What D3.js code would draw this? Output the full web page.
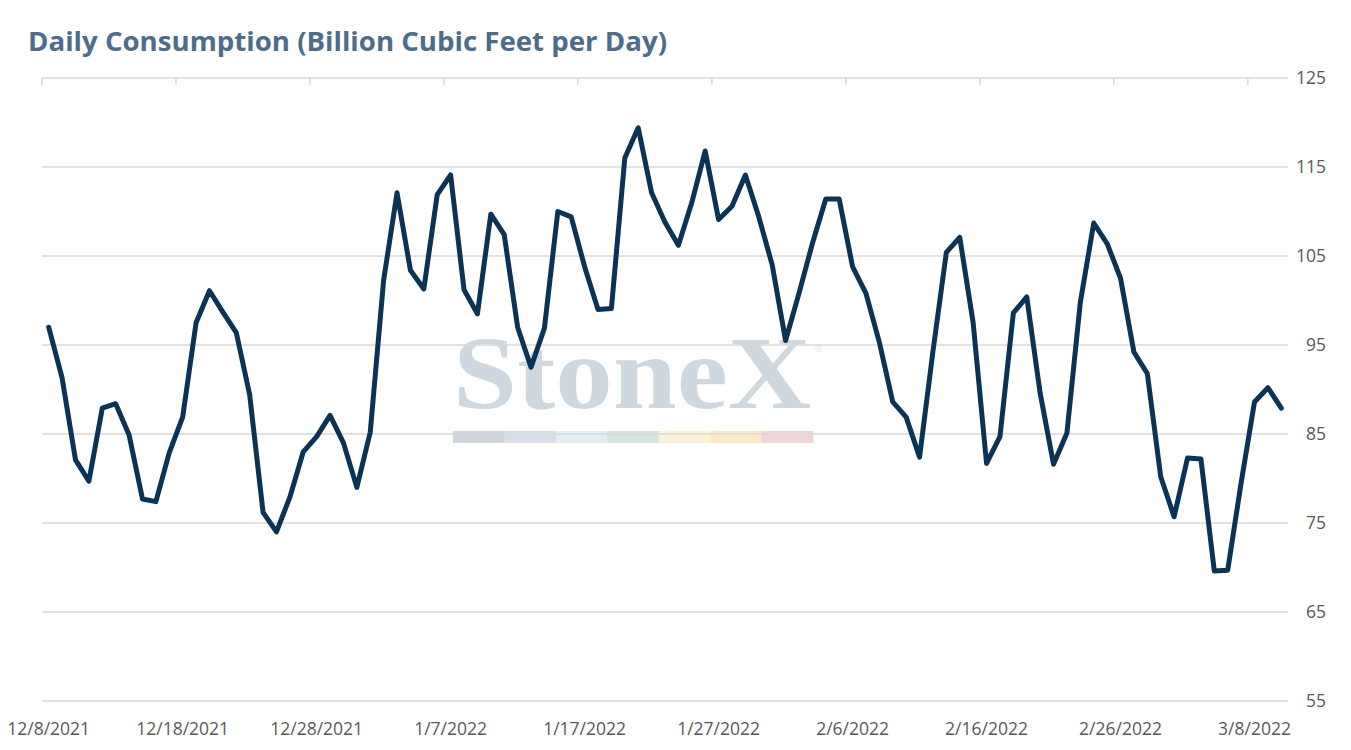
<!DOCTYPE html>
<html>
<head>
<meta charset="utf-8">
<script src="https://cdn.jsdelivr.net/npm/d3@7/dist/d3.min.js"></script>
<style>
  html, body { margin: 0; padding: 0; background: #ffffff; }
  svg { display: block; }
</style>
</head>
<body>
<svg id="chart" width="1351" height="750"></svg>
<script>
// ---- data ----
const titleText = "Daily Consumption (Billion Cubic Feet per Day)";
const firstDay = new Date(2021, 11, 8);
const dayAfterLast = new Date(2022, 2, 11);
const categories = d3.timeDay.range(firstDay, dayAfterLast); // 12/8/2021 .. 3/10/2022

const consumption = [
  97.0, 91.3, 82.1, 79.7, 87.9, 88.4, 84.9, 77.7, 77.4, 82.9,
  86.9, 97.5, 101.1, 98.7, 96.4, 89.4, 76.2, 74.0, 77.9, 83.0,
  84.7, 87.1, 84.0, 79.0, 85.2, 102.3, 112.1, 103.4, 101.3, 111.9,
  114.1, 101.2, 98.5, 109.7, 107.4, 97.0, 92.5, 96.9, 110.0, 109.4,
  103.8, 99.0, 99.1, 116.0, 119.4, 112.1, 108.8, 106.2, 111.0, 116.8,
  109.1, 110.6, 114.1, 109.4, 104.0, 95.5, 100.8, 106.4, 111.4, 111.4,
  103.8, 100.8, 95.3, 88.6, 86.9, 82.4, 94.3, 105.4, 107.1, 97.5,
  81.7, 84.7, 98.6, 100.4, 89.6, 81.6, 85.1, 99.8, 108.7, 106.4,
  102.5, 94.2, 91.8, 80.2, 75.7, 82.3, 82.2, 69.6, 69.7, 79.5,
  88.6, 90.2, 87.9
];

const xTickLabels = ["12/8/2021", "12/18/2021", "12/28/2021", "1/7/2022", "1/17/2022",
                     "1/27/2022", "2/6/2022", "2/16/2022", "2/26/2022", "3/8/2022"];
const yTicks = [55, 65, 75, 85, 95, 105, 115, 125];
const watermarkStripe = ["#cfd6dd", "#d6dfe8", "#e3edf4", "#d5e3da", "#fbf3d8", "#fde9c9", "#f2d3d6"];

// ---- layout ----
const plotLeft = 42, plotRight = 1288, plotTop = 78, plotBottom = 701;
const svg = d3.select("#chart");
const fmt = d3.timeFormat("%-m/%-d/%Y");

const x = d3.scaleBand()
  .domain(categories.map(d => +d))
  .range([plotLeft, plotRight])
  .padding(0);
const xc = d => x(+d) + x.bandwidth() / 2;

const y = d3.scaleLinear().domain([55, 125]).range([plotBottom, plotTop]);

// title
svg.append("text")
  .attr("x", 28).attr("y", 51)
  .attr("font-family", "'Open Sans', sans-serif")
  .attr("font-weight", "bold")
  .attr("font-size", 27)
  .attr("fill", "#4d6d8a")
  .attr("textLength", 639).attr("lengthAdjust", "spacingAndGlyphs")
  .text(titleText);

// watermark
const wm = svg.append("g").attr("class", "watermark");
wm.append("text")
  .attr("x", 453).attr("y", 408)
  .attr("font-family", "'Liberation Serif', 'DejaVu Serif', serif")
  .attr("font-weight", "bold")
  .attr("font-size", 104)
  .attr("fill", "#cfd8df")
  .attr("textLength", 358).attr("lengthAdjust", "spacingAndGlyphs")
  .text("StoneX");
wm.append("text")
  .attr("x", 815).attr("y", 352)
  .attr("font-family", "'Liberation Sans', sans-serif")
  .attr("font-size", 10)
  .attr("fill", "#dde3e8")
  .text("®");
const stripeScale = d3.scaleBand().domain(d3.range(watermarkStripe.length)).range([453, 813]);
wm.selectAll("rect.stripe").data(watermarkStripe).join("rect")
  .attr("class", "stripe")
  .attr("x", (d, i) => stripeScale(i))
  .attr("y", 431)
  .attr("width", stripeScale.bandwidth() + 0.5)
  .attr("height", 12)
  .attr("fill", d => d);

// gridlines
svg.append("g").selectAll("line").data(yTicks.filter(v => v < 125)).join("line")
  .attr("x1", plotLeft).attr("x2", plotRight)
  .attr("y1", d => y(d)).attr("y2", d => y(d))
  .attr("stroke", "#d9d9d9").attr("stroke-width", 1.5);

// top axis line with tick marks
svg.append("line")
  .attr("x1", plotLeft).attr("x2", plotRight)
  .attr("y1", y(125)).attr("y2", y(125))
  .attr("stroke", "#d9d9d9").attr("stroke-width", 1.5);

const tickCats = categories.filter(d => xTickLabels.includes(fmt(d)));
svg.append("g").selectAll("line").data(tickCats).join("line")
  .attr("x1", d => x(+d)).attr("x2", d => x(+d))
  .attr("y1", y(125)).attr("y2", y(125) + 7)
  .attr("stroke", "#d9d9d9").attr("stroke-width", 1.5);

// x labels at bottom
svg.append("g").selectAll("text").data(tickCats).join("text")
  .attr("x", d => xc(d))
  .attr("y", 735)
  .attr("text-anchor", "middle")
  .attr("font-family", "'Open Sans', sans-serif")
  .attr("font-size", 17.5)
  .attr("fill", "#595959")
  .text(d => fmt(d));

// y labels on right
svg.append("g").selectAll("text").data(yTicks).join("text")
  .attr("x", 1326)
  .attr("y", d => y(d))
  .attr("dy", "0.35em")
  .attr("text-anchor", "end")
  .attr("font-family", "'Open Sans', sans-serif")
  .attr("font-size", 17.5)
  .attr("fill", "#595959")
  .text(d => d);

// series line
const line = d3.line()
  .x((d, i) => xc(categories[i]))
  .y(d => y(d));
svg.append("path")
  .datum(consumption)
  .attr("d", line)
  .attr("fill", "none")
  .attr("stroke", "#0b3355")
  .attr("stroke-width", 5)
  .attr("stroke-linejoin", "round")
  .attr("stroke-linecap", "round");
</script>
</body>
</html>
